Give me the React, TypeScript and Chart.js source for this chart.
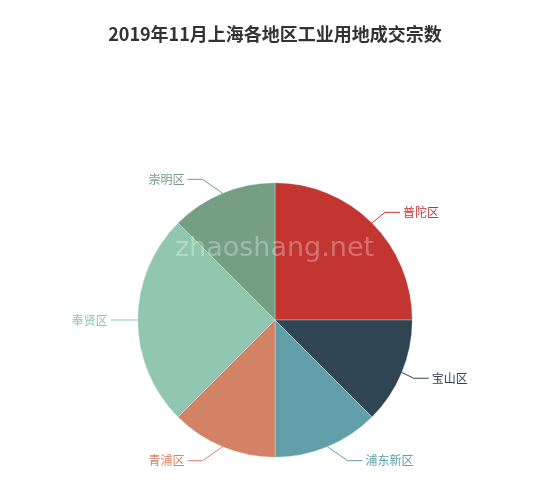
import { useEffect, useRef } from 'react';
import { Chart, ArcElement, PieController, Plugin } from 'chart.js';

Chart.register(ArcElement, PieController);

const TITLE = '2019年11月上海各地区工业用地成交宗数';
const districts = ['普陀区', '宝山区', '浦东新区', '青浦区', '奉贤区', '崇明区'];
const deals = [2, 1, 1, 1, 2, 1];
const colors = ['#c23531', '#2f4554', '#61a0a8', '#d48265', '#91c7ae', '#749f83'];

const LINE_LEN = 15;
const LINE_LEN2 = 15;

// echarts-style outside labels with two-segment leader lines, plus title & watermark
const decorations: Plugin<'pie'> = {
  id: 'decorations',
  afterDatasetsDraw(chart) {
    const ctx = chart.ctx;
    const meta = chart.getDatasetMeta(0);
    ctx.save();

    ctx.fillStyle = 'rgba(255,255,255,0.3)';
    ctx.font = '27px "DejaVu Sans", sans-serif';
    ctx.textAlign = 'center';
    ctx.textBaseline = 'alphabetic';
    ctx.fillText('zhaoshang.net', 274.5, 256);

    ctx.font = '12px "Noto Sans CJK SC", sans-serif';
    ctx.textBaseline = 'middle';
    meta.data.forEach((el: any, i) => {
      const { x: cx, y: cy, startAngle, endAngle, outerRadius: r } = el.getProps(
        ['x', 'y', 'startAngle', 'endAngle', 'outerRadius'],
        true
      );
      const mid = (startAngle + endAngle) / 2;
      const cos = Math.cos(mid);
      const sin = Math.sin(mid);
      const dir = cos < 0 ? -1 : 1;
      const x1 = cx + r * cos;
      const y1 = cy + r * sin;
      const ly = cy + (r + LINE_LEN) * sin;
      const dy = Math.abs(ly - cy);
      const R = r + LINE_LEN + LINE_LEN2;
      const dx = dy < r + LINE_LEN ? Math.sqrt(R * R - dy * dy) : Math.abs(R * cos);
      const textX = cx + dir * dx;
      const endX = textX - dir * 3;
      const elbowX = endX - dir * LINE_LEN2;

      ctx.strokeStyle = colors[i];
      ctx.lineWidth = 1;
      ctx.beginPath();
      ctx.moveTo(x1, y1);
      ctx.lineTo(elbowX, ly);
      ctx.lineTo(endX, ly);
      ctx.stroke();

      ctx.fillStyle = colors[i];
      ctx.textAlign = dir < 0 ? 'right' : 'left';
      ctx.fillText(districts[i], textX, ly);
    });

    ctx.fillStyle = '#333';
    ctx.font = 'bold 18px "Noto Sans CJK SC", sans-serif';
    ctx.textAlign = 'center';
    ctx.fillText(TITLE, 275, 34);
    ctx.restore();
  },
};

export default function App() {
  const canvasRef = useRef<HTMLCanvasElement>(null);

  useEffect(() => {
    if (!canvasRef.current) return;
    const chart = new Chart(canvasRef.current, {
      type: 'pie',
      data: {
        labels: districts,
        datasets: [
          {
            data: deals,
            backgroundColor: colors,
            borderColor: 'rgba(255,255,255,0.6)',
            borderWidth: 0.5,
          },
        ],
      },
      options: {
        responsive: true,
        maintainAspectRatio: false,
        animation: false,
        layout: { padding: { left: 137.5, right: 137.5, top: 182.5, bottom: 37.5 } },
        plugins: {
          legend: { display: false },
          tooltip: { enabled: false },
        },
      },
      plugins: [decorations],
    });
    return () => chart.destroy();
  }, []);

  return (
    <div style={{ position: 'absolute', left: 0, top: 0, width: 550, height: 495, background: '#fff' }}>
      <canvas ref={canvasRef} />
    </div>
  );
}
